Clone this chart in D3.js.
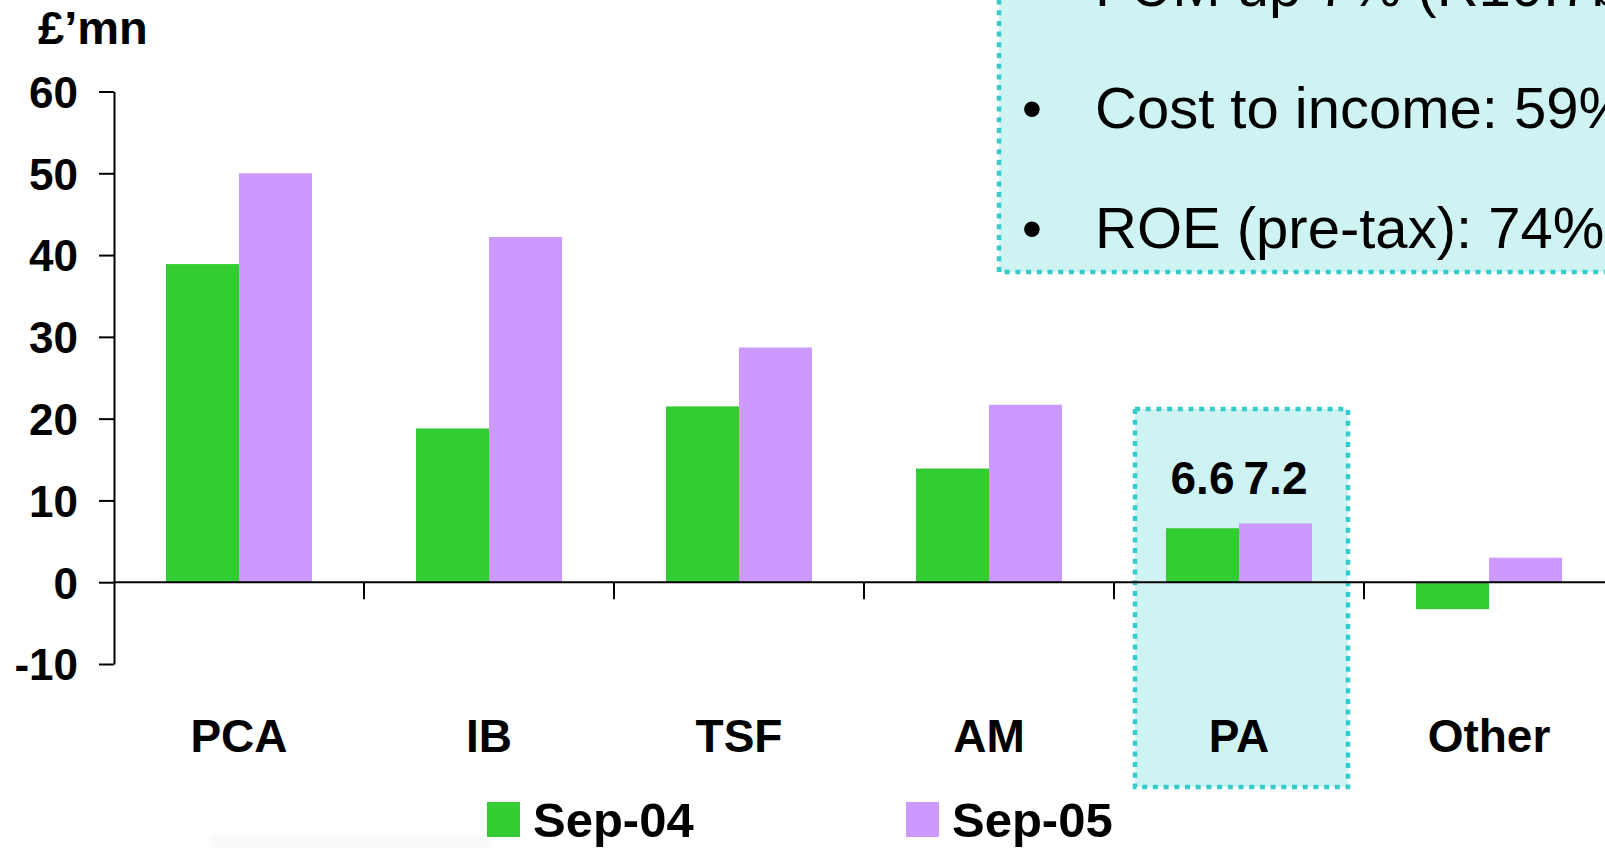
<!DOCTYPE html>
<html>
<head>
<meta charset="utf-8">
<script src="https://cdn.jsdelivr.net/npm/d3@7/dist/d3.min.js"></script>
<style>
  html, body { margin: 0; padding: 0; background: #ffffff; }
  svg { display: block; }
  text { font-family: "Liberation Sans", Arial, Helvetica, sans-serif; fill: #000; }
</style>
</head>
<body>
<svg id="chart" width="1605" height="848"></svg>
<script>
// Profit before tax by business line, £'mn
const categories = ["PCA", "IB", "TSF", "AM", "PA", "Other"];
const seriesNames = ["Sep-04", "Sep-05"];
const sep04 = [38.9, 18.8, 21.5, 13.9, 6.6, -3.3];
const sep05 = [50.0, 42.2, 28.7, 21.7, 7.2, 3.0];
const yTicks = [-10, 0, 10, 20, 30, 40, 50, 60];
const highlighted = "PA";
const notes = ["FUM up 7% (R10.7bn)", "Cost to income: 59%", "ROE (pre-tax): 74%"];

const colors = { "Sep-04": "#33cc33", "Sep-05": "#cc99ff" };
const boxFill = "#cff3f3";
const boxStroke = "#33cccc";

const svg = d3.select("#chart");

const x0 = d3.scaleBand().domain(categories).range([114, 1614]).padding(0);
const x1 = d3.scaleBand().domain(seriesNames).range([0, x0.bandwidth()])
  .paddingInner(0).paddingOuter(0.712);
const y = d3.scaleLinear().domain([-10, 60]).range([664, 91.5]);

const rows = categories.map((c, i) => ({
  category: c,
  values: [
    { series: "Sep-04", value: sep04[i] },
    { series: "Sep-05", value: sep05[i] }
  ]
}));

// faint smudge near the legend
const defs = svg.append("defs");
defs.append("filter").attr("id", "soft")
  .append("feGaussianBlur").attr("stdDeviation", 3);
svg.append("rect")
  .attr("x", 210).attr("y", 834).attr("width", 280).attr("height", 20)
  .attr("fill", "#ececec").attr("opacity", 0.35).attr("filter", "url(#soft)");

// highlight panel around the PA group
const hx = x0(highlighted);
svg.append("rect")
  .attr("x", hx + 21).attr("y", 409)
  .attr("width", 213).attr("height", 378)
  .attr("fill", boxFill)
  .attr("stroke", boxStroke).attr("stroke-width", 4.5)
  .attr("stroke-dasharray", "5 5.7");

// commentary panel (top right)
svg.append("rect")
  .attr("x", 999).attr("y", -40)
  .attr("width", 700).attr("height", 312)
  .attr("fill", boxFill)
  .attr("stroke", boxStroke).attr("stroke-width", 4.5)
  .attr("stroke-dasharray", "5 5.7");

const noteBaselines = [6, 128, 248];
const noteG = svg.append("g").style("font-size", "58px");
notes.forEach((t, i) => {
  noteG.append("text").attr("x", 1032).attr("y", noteBaselines[i])
    .attr("text-anchor", "middle").text("\u2022");
  noteG.append("text").attr("x", 1095).attr("y", noteBaselines[i]).text(t);
});

// bars
const groups = svg.append("g").selectAll("g")
  .data(rows).join("g")
  .attr("transform", d => `translate(${x0(d.category)},0)`);

groups.selectAll("rect")
  .data(d => d.values).join("rect")
  .attr("x", d => x1(d.series))
  .attr("width", x1.bandwidth())
  .attr("y", d => y(Math.max(0, d.value)))
  .attr("height", d => Math.abs(y(d.value) - y(0)))
  .attr("fill", d => colors[d.series]);

// value labels on the highlighted group
const hRow = rows.find(r => r.category === highlighted);
const labelY = y(d3.max(hRow.values, v => v.value)) - 29;
svg.append("g").selectAll("text")
  .data(hRow.values).join("text")
  .attr("x", d => hx + x1(d.series) + x1.bandwidth() / 2)
  .attr("y", labelY)
  .attr("text-anchor", "middle")
  .style("font-size", "46px").style("font-weight", "bold")
  .text(d => d.value.toFixed(1));

// y axis
const yAxis = svg.append("g")
  .attr("transform", "translate(114,0)")
  .call(d3.axisLeft(y).tickValues(yTicks).tickFormat(d => String(d))
    .tickSize(15).tickSizeOuter(0).tickPadding(21));
yAxis.select(".domain").attr("stroke", "#000").attr("stroke-width", 2);
yAxis.selectAll(".tick line").attr("stroke", "#000").attr("stroke-width", 2);
yAxis.selectAll(".tick text")
  .style("font-size", "44px").style("font-weight", "bold")
  .style("font-family", "'Liberation Sans', Arial, sans-serif")
  .attr("dy", "0.36em");

// category axis along zero
const y0 = y(0);
svg.append("line")
  .attr("x1", 114).attr("x2", 1614).attr("y1", y0).attr("y2", y0)
  .attr("stroke", "#000").attr("stroke-width", 2);
svg.append("g").selectAll("line")
  .data(categories.slice(1)).join("line")
  .attr("x1", d => x0(d)).attr("x2", d => x0(d))
  .attr("y1", y0).attr("y2", y0 + 17)
  .attr("stroke", "#000").attr("stroke-width", 2);
svg.append("g").selectAll("text")
  .data(categories).join("text")
  .attr("x", d => x0(d) + x0.bandwidth() / 2)
  .attr("y", 752)
  .attr("text-anchor", "middle")
  .style("font-size", "46px").style("font-weight", "bold")
  .text(d => d);

// unit label
svg.append("text").attr("x", 38).attr("y", 44)
  .style("font-size", "47px").style("font-weight", "bold")
  .text("£’mn");

// legend
const legendX = [487, 906];
const legend = svg.append("g").selectAll("g")
  .data(seriesNames).join("g")
  .attr("transform", (d, i) => `translate(${legendX[i]},0)`);
legend.append("rect")
  .attr("x", 0).attr("y", 802).attr("width", 33).attr("height", 35)
  .attr("fill", d => colors[d]);
legend.append("text")
  .attr("x", 46).attr("y", 837)
  .style("font-size", "49px").style("font-weight", "bold")
  .text(d => d);
</script>
</body>
</html>
